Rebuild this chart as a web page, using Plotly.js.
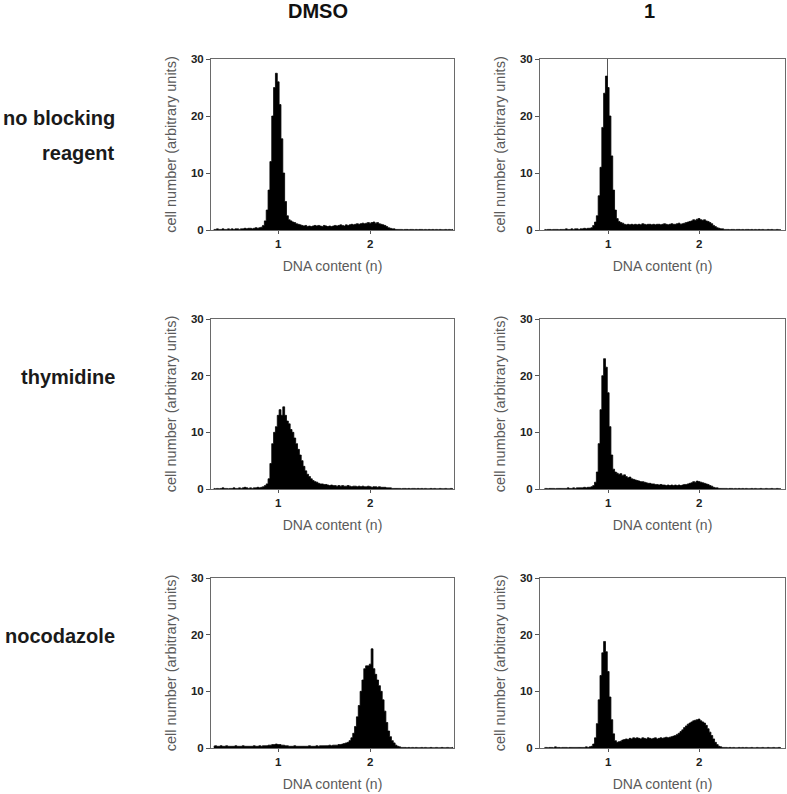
<!DOCTYPE html>
<html>
<head>
<meta charset="utf-8">
<script src="https://cdn.plot.ly/plotly-3.0.1.min.js"></script>
<style>html,body{margin:0;padding:0;background:#fff;}#chart{width:787px;height:794px;}</style>
</head>
<body>
<div id="chart"></div>
<script>
// Histogram bins: first bin centre and bin width (DNA content, n)
const binStart = 0.30;
const binWidth = 0.02;

const columnLabels = ["DMSO", "1"];
const rowLabels = [["no blocking", "reagent"], ["thymidine"], ["nocodazole"]];
const xTickVals = [1, 2];
const yTickVals = [0, 10, 20, 30];

// DMSO, no blocking reagent
const dmsoNone = [
  0.1,0.1,0.2,0.1,0.1,0.2,0.1,0.1,0.2,0.1,
  0.2,0.1,0.2,0.2,0.1,0.2,0.2,0.3,0.2,0.3,
  0.3,0.2,0.3,0.4,0.3,0.4,0.5,0.8,1.6,3.5,
  7,12,20,25,27.5,26,22,16,10,5,
  2.5,1.8,1.6,1.4,1.3,1.1,1.0,0.9,0.8,0.7,
  0.8,0.6,0.7,0.6,0.7,0.8,0.7,0.8,0.7,0.6,
  0.8,0.7,0.6,0.7,0.6,0.7,0.8,0.7,0.8,0.9,
  0.8,0.7,0.9,0.8,0.9,1.0,0.9,1.0,1.1,1.0,
  1.1,1.2,1.1,1.2,1.3,1.2,1.3,1.4,1.2,1.3,
  1.1,1.0,0.9,0.8,0.6,0.4,0.3,0.2,0.2,0.1,
  0.1,0.1,0.1,0.05,0.1,0.1,0.05,0.1,0.1,0.05,
  0.1,0.05,0.1,0.1,0.05,0.1,0.05,0.1,0.05,0.1,
  0.05,0.1,0.05,0.1,0.05,0.05,0.1,0.05,0.1,0.05,
  0.1
];
// compound 1, no blocking reagent
const cpdNone = [
  0.1,0.05,0.1,0.1,0.05,0.1,0.1,0.1,0.05,0.1,
  0.1,0.1,0.2,0.1,0.1,0.2,0.1,0.2,0.2,0.1,
  0.2,0.2,0.3,0.2,0.3,0.3,0.4,0.8,1.4,2.5,
  6,11,18,24,27,25,20,13,7,3.5,
  2.0,1.5,1.3,1.2,1.0,0.9,1.0,0.9,1.0,0.9,
  1.0,0.9,1.0,0.9,1.1,1.0,0.9,1.0,1.0,0.9,
  1.0,0.9,1.0,1.0,0.9,1.0,1.1,1.0,0.9,1.0,
  1.1,1.0,1.0,1.1,1.2,1.0,1.1,1.2,1.3,1.4,
  1.5,1.6,1.8,1.7,1.9,2.0,1.8,1.7,1.8,1.6,
  1.5,1.3,1.1,0.8,0.6,0.4,0.3,0.2,0.2,0.1,
  0.1,0.1,0.05,0.1,0.1,0.05,0.1,0.1,0.05,0.1,
  0.05,0.1,0.1,0.05,0.1,0.05,0.1,0.05,0.1,0.05,
  0.1,0.05,0.05,0.1,0.05,0.1,0.05,0.05,0.1,0.05,
  0.05
];
const cpdNoneSpikeX = [0.99];
const cpdNoneSpikeY = [30];
// DMSO, thymidine
const dmsoThy = [
  0.1,0.05,0.1,0.05,0.1,0.2,0.1,0.1,0.05,0.1,
  0.1,0.2,0.1,0.1,0.2,0.1,0.2,0.3,0.2,0.1,
  0.2,0.1,0.2,0.2,0.3,0.2,0.3,0.4,0.6,0.9,
  1.8,4.5,8,10,11,13,14,13,14.5,13,
  12,11.5,10.5,10,9,8,7,6,5,4,
  3.2,2.6,2.2,1.8,1.5,1.3,1.2,1.0,0.9,0.9,
  0.8,0.8,0.7,0.6,0.7,0.6,0.6,0.5,0.6,0.5,
  0.6,0.5,0.5,0.6,0.5,0.4,0.5,0.5,0.4,0.5,
  0.4,0.5,0.4,0.4,0.5,0.4,0.3,0.4,0.4,0.3,
  0.4,0.3,0.3,0.3,0.2,0.2,0.2,0.1,0.1,0.1,
  0.1,0.1,0.05,0.1,0.1,0.05,0.1,0.05,0.1,0.1,
  0.05,0.1,0.05,0.1,0.05,0.1,0.05,0.05,0.1,0.05,
  0.1,0.05,0.05,0.1,0.05,0.05,0.1,0.05,0.05,0.1,
  0.05
];
// compound 1, thymidine
const cpdThy = [
  0.1,0.1,0.05,0.1,0.1,0.1,0.05,0.1,0.1,0.1,
  0.1,0.1,0.1,0.2,0.1,0.1,0.2,0.1,0.2,0.2,
  0.2,0.2,0.3,0.2,0.3,0.3,0.4,0.6,1.2,3.0,
  8,14,20,23,21.5,17,11,6,3.5,3.0,
  2.8,2.6,2.7,2.4,2.5,2.2,2.0,2.1,1.8,1.7,
  1.6,1.5,1.4,1.3,1.3,1.2,1.1,1.0,1.0,0.9,
  0.9,0.8,0.8,0.7,0.8,0.7,0.7,0.6,0.7,0.6,
  0.7,0.6,0.7,0.6,0.7,0.6,0.7,0.8,0.8,0.9,
  1.0,1.1,1.3,1.2,1.4,1.3,1.2,1.1,1.0,0.9,
  0.8,0.6,0.5,0.3,0.2,0.2,0.1,0.1,0.1,0.1,
  0.1,0.05,0.1,0.1,0.05,0.1,0.05,0.1,0.05,0.1,
  0.05,0.1,0.05,0.05,0.1,0.05,0.1,0.05,0.05,0.1,
  0.05,0.05,0.1,0.05,0.05,0.1,0.05,0.05,0.1,0.05,
  0.05
];
// DMSO, nocodazole
const dmsoNoc = [
  0.3,0.4,0.3,0.3,0.4,0.3,0.3,0.4,0.3,0.3,
  0.3,0.3,0.4,0.3,0.3,0.3,0.4,0.3,0.3,0.3,
  0.3,0.3,0.4,0.3,0.3,0.4,0.3,0.4,0.4,0.4,
  0.5,0.5,0.6,0.6,0.7,0.6,0.6,0.5,0.5,0.4,
  0.4,0.3,0.3,0.3,0.4,0.3,0.3,0.3,0.3,0.3,
  0.3,0.3,0.4,0.3,0.3,0.3,0.4,0.3,0.4,0.4,
  0.4,0.4,0.4,0.5,0.4,0.5,0.5,0.5,0.6,0.6,
  0.7,0.8,0.9,1.0,1.3,1.8,2.6,3.8,5.5,7.5,
  10,12,14,14.5,14.5,14.8,17.5,14,13,12,
  11,10,8.5,6.5,4.5,3.0,2.0,1.3,0.9,0.5,
  0.3,0.2,0.1,0.1,0.1,0.05,0.1,0.05,0.1,0.05,
  0.1,0.05,0.05,0.1,0.05,0.1,0.05,0.05,0.1,0.05,
  0.05,0.1,0.05,0.05,0.1,0.05,0.05,0.1,0.05,0.05,
  0.1
];
// compound 1, nocodazole
const cpdNoc = [
  0.1,0.1,0.05,0.1,0.1,0.05,0.2,0.1,0.1,0.05,
  0.1,0.1,0.1,0.05,0.1,0.1,0.1,0.1,0.1,0.1,
  0.1,0.1,0.1,0.2,0.1,0.2,0.3,0.7,1.8,4.3,
  8.5,12.8,16.8,18.8,17,13.5,9,5,2.5,1.3,
  1.0,1.1,1.2,1.4,1.5,1.6,1.5,1.7,1.6,1.8,
  1.7,1.8,1.7,1.6,1.8,1.7,1.6,1.8,1.7,1.6,
  1.7,1.8,1.6,1.7,1.8,1.7,1.8,1.9,1.8,1.9,
  2.0,2.1,2.2,2.4,2.6,2.9,3.2,3.6,3.9,4.2,
  4.4,4.6,4.8,4.9,5.0,5.1,4.8,4.6,4.4,4.0,
  3.4,2.8,2.2,1.6,1.0,0.6,0.3,0.2,0.1,0.1,
  0.1,0.05,0.1,0.05,0.1,0.05,0.05,0.1,0.05,0.1,
  0.05,0.1,0.05,0.05,0.1,0.05,0.05,0.1,0.05,0.05,
  0.1,0.05,0.05,0.1,0.05,0.05,0.1,0.05,0.05,0.1,
  0.05
];

const panels = [
  {y: dmsoNone, col: 0, row: 0},
  {y: cpdNone,  col: 1, row: 0, spikeX: cpdNoneSpikeX, spikeY: cpdNoneSpikeY},
  {y: dmsoThy,  col: 0, row: 1},
  {y: cpdThy,   col: 1, row: 1},
  {y: dmsoNoc,  col: 0, row: 2},
  {y: cpdNoc,   col: 1, row: 2}
];

const W = 787, H = 794;
const colPx = [[211, 454], [540, 785]];
const rowPx = [[59, 230], [319, 489], [578, 748]];
const xRanges = [[0.27, 2.91], [0.25, 2.945]];
const FONT = "Liberation Sans, Arial, sans-serif";

const traces = [];
const layout = {
  width: W, height: H,
  margin: {l: 0, r: 0, t: 0, b: 0},
  paper_bgcolor: "#ffffff", plot_bgcolor: "#ffffff",
  showlegend: false,
  barmode: "overlay",
  bargap: 0,
  font: {family: FONT, color: "#222"},
  annotations: []
};

panels.forEach((p, i) => {
  const n = i + 1;
  const xa = "x" + (n === 1 ? "" : n), ya = "y" + (n === 1 ? "" : n);
  // filled step histogram (bins centred on x0 + k*dx)
  traces.push({
    type: "scatter", mode: "lines", x0: binStart, dx: binWidth, y: p.y,
    xaxis: xa, yaxis: ya,
    line: {shape: "hvh", color: "#000", width: 0.8},
    fill: "tozeroy", fillcolor: "#000",
    hoverinfo: "skip"
  });
  if (p.spikeX) {
    traces.push({
      type: "bar", x: p.spikeX, y: p.spikeY, width: 0.011,
      xaxis: xa, yaxis: ya,
      marker: {color: "#555", line: {width: 0}},
      hoverinfo: "skip"
    });
  }
  const [x0, x1] = colPx[p.col];
  const [y0, y1] = rowPx[p.row];
  const xKey = "xaxis" + (n === 1 ? "" : n), yKey = "yaxis" + (n === 1 ? "" : n);
  layout[xKey] = {
    domain: [x0 / W, x1 / W],
    anchor: ya,
    range: xRanges[p.col],
    tickvals: xTickVals,
    ticks: "outside", ticklen: 3, tickcolor: "#555",
    showline: true, linecolor: "#6a6a6a", linewidth: 1, mirror: true,
    showgrid: false, zeroline: false,
    tickfont: {family: FONT, size: 11.5, color: "#222", weight: "bold"},
    title: {text: "DNA content (n)", font: {family: FONT, size: 14, color: "#5a5a5a"}, standoff: 12}
  };
  layout[yKey] = {
    domain: [1 - y1 / H, 1 - y0 / H],
    anchor: xa,
    range: [0, 30],
    tickvals: yTickVals,
    ticks: "outside", ticklen: 4, tickcolor: "#555",
    showline: true, linecolor: "#6a6a6a", linewidth: 1, mirror: true,
    showgrid: false, zeroline: false,
    tickfont: {family: FONT, size: 11.5, color: "#222", weight: "bold"},
    title: {text: "cell number (arbitrary units)", font: {family: FONT, size: 14.5, color: "#5a5a5a"}, standoff: 10}
  };
});

// Column headers
const colHeaderX = [318, 649];
columnLabels.forEach((t, c) => {
  layout.annotations.push({
    text: t, xref: "paper", yref: "paper", x: colHeaderX[c] / W, y: 1 - 10.5 / H,
    xanchor: "center", yanchor: "middle", showarrow: false,
    font: {family: FONT, size: 20, color: "#111", weight: "bold"}
  });
});
// Row labels
const rowLabelY = [[118, 153], [377], [635.5]];
rowLabels.forEach((lines, r) => {
  lines.forEach((t, k) => {
    layout.annotations.push({
      text: t, xref: "paper", yref: "paper", x: 117 / W, y: 1 - rowLabelY[r][k] / H,
      xanchor: "right", yanchor: "middle", showarrow: false,
      font: {family: FONT, size: 20, color: "#1a1a1a", weight: "bold"}
    });
  });
});

Plotly.newPlot("chart", traces, layout, {staticPlot: true, displayModeBar: false});
</script>
</body>
</html>
